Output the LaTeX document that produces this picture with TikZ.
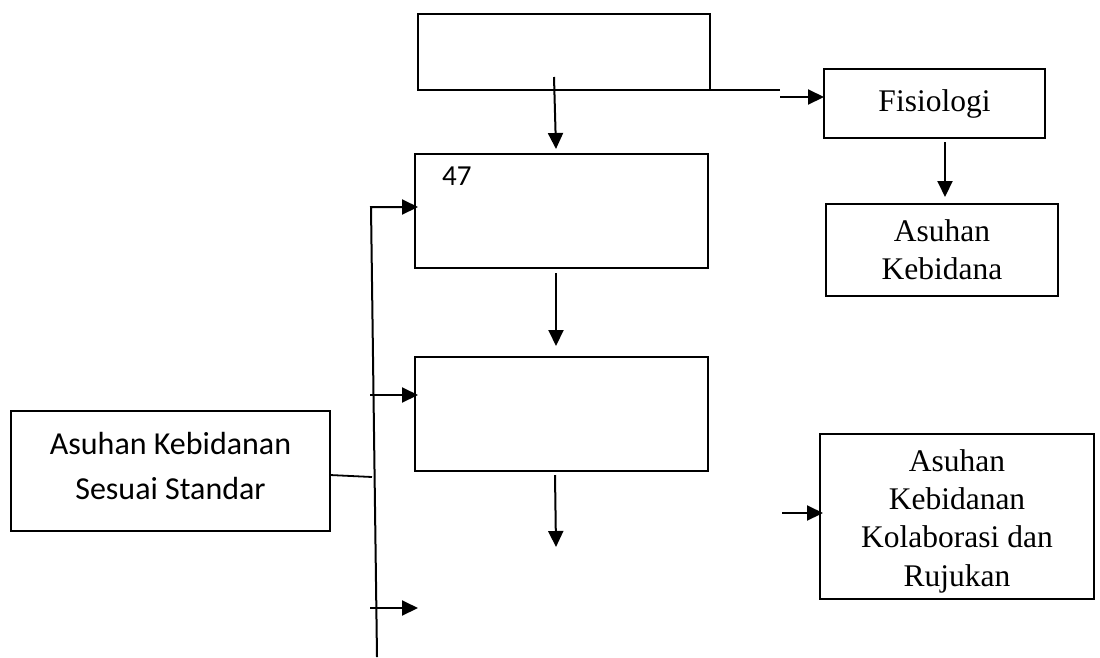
\documentclass[tikz,border=0pt]{standalone}
\usepackage{fontspec}
\setmainfont{Liberation Serif}
\newfontfamily\calibri{Carlito}
\usetikzlibrary{arrows.meta}
\begin{document}
\begin{tikzpicture}[x=1pt,y=-1pt,
  box/.style={draw, line width=1.6pt, rectangle, inner sep=0pt, outer sep=0pt, anchor=north west, align=center},
  arr/.style={line width=2pt, -{Triangle[length=16pt,width=15pt]}},
  ln/.style={line width=1.8pt},
  serif/.style={font=\fontsize{31.5}{38.3}\selectfont},
  sans/.style={font=\calibri\fontsize{32}{45}\selectfont}]
\useasboundingbox (0,0) rectangle (1100,657);
% boxes
\node[box, line width=2pt, minimum width=292pt, minimum height=76pt] (top) at (418,14) {};
\node[box, minimum width=293pt, minimum height=114pt] (b47) at (415,154) {};
\node[box, minimum width=293pt, minimum height=114pt] (mid) at (415,357) {};
\node[box, serif, minimum width=221pt, minimum height=69pt] (fis) at (824,69) {\rule{0pt}{23pt}Fisiologi};
\node[box, serif, minimum width=232pt, minimum height=92pt] (keb) at (826,204) {Asuhan\\Kebidana};
\node[box, serif, minimum width=274pt, minimum height=165pt] (ruj) at (820,434) {\rule{0pt}{31pt}Asuhan\\Kebidanan\\Kolaborasi dan\\Rujukan};
\node[box, sans, minimum width=319pt, minimum height=120pt] (std) at (11,411) {Asuhan Kebidanan\\Sesuai Standar\rule[-10pt]{0pt}{10pt}};
\node[anchor=base west, inner sep=0pt, font=\calibri\fontsize{29}{35}\selectfont] (num) at (442,185) {47};
% free ends
\coordinate (vtop) at (371,207);
\coordinate (vbot) at (377,657);
\coordinate (topR) at (780,90);
\coordinate (fisA) at (780,97);
\coordinate (midEnd) at (556,547);
\coordinate (botS) at (370,608);
\coordinate (botE) at (418,608);
\coordinate (rujS) at (782,513);
% connectors
\draw[arr] ([xshift=-10pt,yshift=13pt]top.south) -- ([xshift=-5.5pt,yshift=5pt]b47.north);
\draw[ln] (top.south east) -- (topR);
\draw[arr] (fisA) -- ([yshift=6.5pt]fis.west);
\draw[arr] ([xshift=10.5pt,yshift=-4pt]fis.south) -- ([xshift=3pt,yshift=7pt]keb.north);
\draw[arr] ([xshift=-5.5pt,yshift=-5pt]b47.south) -- ([xshift=-5.5pt,yshift=11pt]mid.north);
\draw[arr] ([xshift=-6.5pt,yshift=-4pt]mid.south) -- (midEnd);
\draw[arr] (vbot) -- (vtop) -- ([xshift=3pt,yshift=4pt]b47.west);
\draw[arr] ([xshift=-45pt,yshift=19pt]mid.west) -- ([xshift=3pt,yshift=19pt]mid.west);
\draw[arr] (botS) -- (botE);
\draw[ln] ([yshift=-4pt]std.east) -- ([xshift=42pt,yshift=-6pt]std.east);
\draw[arr] (rujS) -- ([xshift=3pt,yshift=3.5pt]ruj.west);
\end{tikzpicture}
\end{document}
